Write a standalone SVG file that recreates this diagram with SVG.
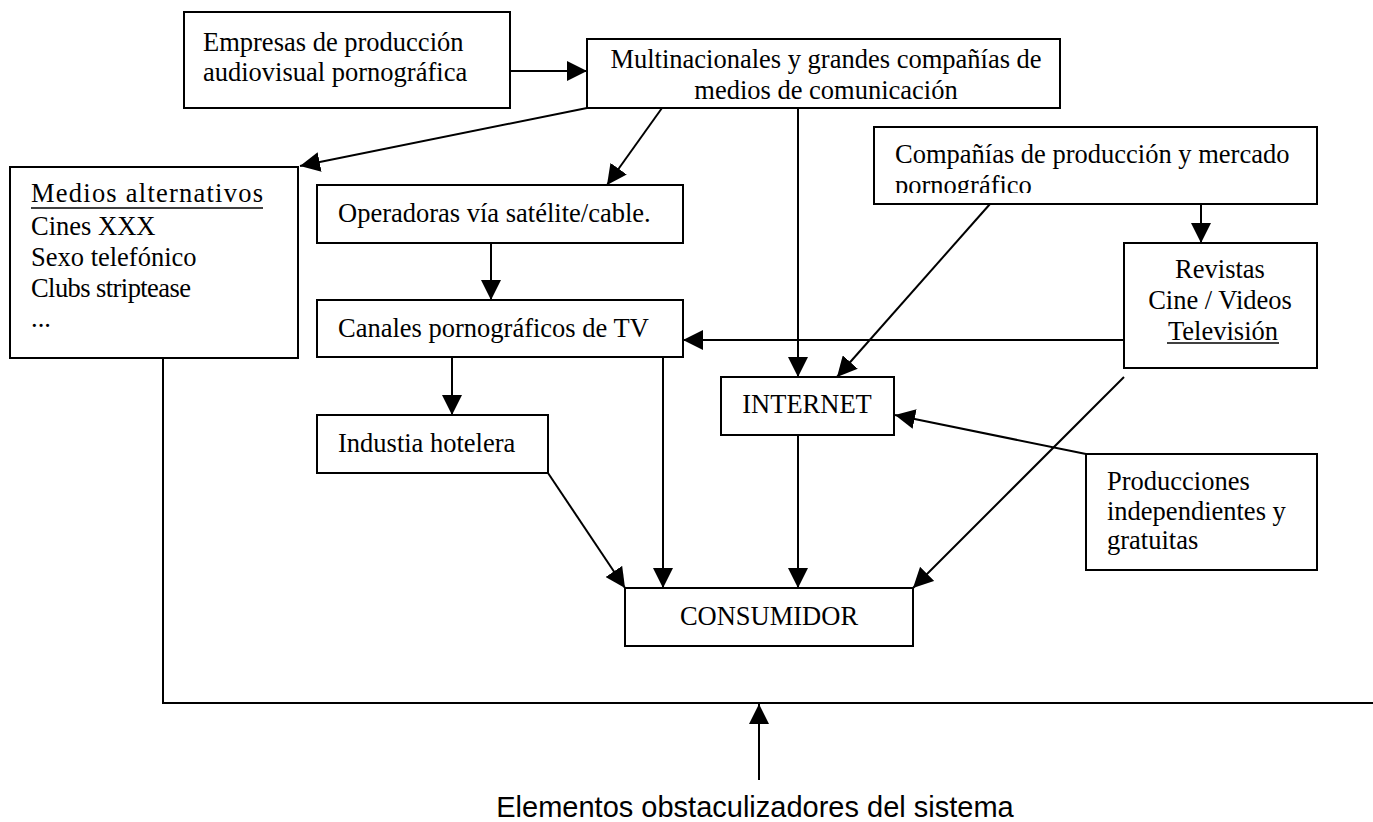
<svg xmlns="http://www.w3.org/2000/svg" width="1373" height="822" viewBox="0 0 1373 822">
<style>
.box{fill:#fff;stroke:#000;stroke-width:2}
.t{font-family:"Liberation Serif","Times New Roman",serif;font-size:26.5px;fill:#000}
.c{text-anchor:middle}
.ln{fill:none;stroke:#000;stroke-width:2}
.ar{fill:none;stroke:#000;stroke-width:2;marker-end:url(#ah)}
.ul{stroke:#000;stroke-width:1.6}
</style>
<defs>
<marker id="ah" markerUnits="userSpaceOnUse" markerWidth="20" markerHeight="20" refX="20" refY="10" orient="auto">
<path d="M0,0 L20,10 L0,20 z" fill="#000"/>
</marker>
<clipPath id="clipComp"><rect x="874" y="127" width="443" height="66"/></clipPath>
</defs>
<rect width="1373" height="822" fill="#fff"/>

<g id="connectors">
<path class="ar" d="M511,71 L587,71"/>
<path class="ar" d="M587,108 L300,166"/>
<path class="ar" d="M662,108 L607,185"/>
<path class="ar" d="M798,108 L798,377"/>
<path class="ar" d="M491,243 L491,300"/>
<path class="ar" d="M452,357 L452,415"/>
<path class="ar" d="M663,357 L663,588"/>
<path class="ar" d="M548,473 L625,588"/>
<path class="ar" d="M1163,340 L683,340"/>
<path class="ar" d="M990,204 L837,377"/>
<path class="ar" d="M1201,204 L1201,243"/>
<path class="ar" d="M798,435 L798,588"/>
<path class="ar" d="M1086,454 L895,415"/>
<path class="ar" d="M1124,377 L913,588"/>
<path class="ln" d="M163,358 L163,703 L1373,703"/>
<path class="ar" d="M759,780 L759,704"/>
</g>

<g id="empresas">
<rect class="box" x="184" y="12" width="326" height="96"/>
<text class="t" x="203" y="51">Empresas de producción</text>
<text class="t" x="203" y="81">audiovisual pornográfica</text>
</g>

<g id="multinacionales">
<rect class="box" x="587" y="39" width="473" height="69"/>
<text class="t c" x="826" y="68">Multinacionales y grandes compañías de</text>
<text class="t c" x="826" y="99">medios de comunicación</text>
</g>

<g id="medios">
<rect class="box" x="10" y="167" width="288" height="191"/>
<text class="t" x="31" y="202" textLength="232" lengthAdjust="spacing">Medios alternativos</text>
<line class="ul" x1="31" y1="208" x2="263" y2="208"/>
<text class="t" x="31" y="235">Cines XXX</text>
<text class="t" x="31" y="266">Sexo telefónico</text>
<text class="t" x="31" y="297" textLength="160" lengthAdjust="spacing">Clubs striptease</text>
<text class="t" x="31" y="327">...</text>
</g>

<g id="operadoras">
<rect class="box" x="317" y="185" width="366" height="58"/>
<text class="t" x="338" y="222">Operadoras vía satélite/cable.</text>
</g>

<g id="canales">
<rect class="box" x="317" y="300" width="366" height="57"/>
<text class="t" x="338" y="337">Canales pornográficos de TV</text>
</g>

<g id="industria">
<rect class="box" x="317" y="415" width="231" height="58"/>
<text class="t" x="338" y="452">Industia hotelera</text>
</g>

<g id="companias">
<rect class="box" x="874" y="127" width="443" height="77"/>
<g clip-path="url(#clipComp)">
<text class="t" x="895" y="163">Compañías de producción y mercado</text>
<text class="t" x="895" y="194">pornográfico</text>
</g>
</g>

<g id="revistas">
<rect class="box" x="1124" y="243" width="193" height="125"/>
<text class="t c" x="1220" y="278">Revistas</text>
<text class="t c" x="1220" y="309">Cine / Videos</text>
<text class="t c" x="1223" y="340">Televisión</text>
<line class="ul" x1="1167" y1="343" x2="1279" y2="343"/>
</g>

<g id="internet">
<rect class="box" x="721" y="377" width="173" height="58"/>
<text class="t c" x="807" y="413">INTERNET</text>
</g>

<g id="producciones">
<rect class="box" x="1086" y="454" width="231" height="116"/>
<text class="t" x="1107" y="490">Producciones</text>
<text class="t" x="1107" y="520">independientes y</text>
<text class="t" x="1107" y="549">gratuitas</text>
</g>

<g id="consumidor">
<rect class="box" x="625" y="588" width="288" height="58"/>
<text class="t c" x="769" y="625">CONSUMIDOR</text>
</g>

<g id="obstaculizadores">
<text x="755" y="817" text-anchor="middle" font-family="'Liberation Sans',Arial,sans-serif" font-size="29">Elementos obstaculizadores del sistema</text>
</g>
</svg>
